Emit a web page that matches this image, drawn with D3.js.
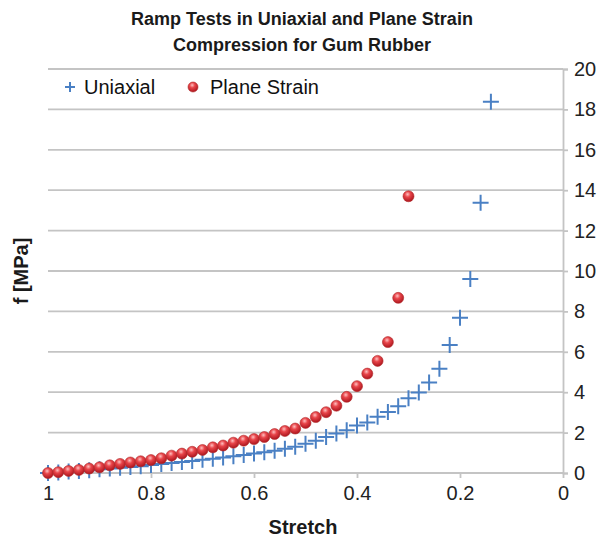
<!DOCTYPE html>
<html><head><meta charset="utf-8">
<script src="https://cdn.jsdelivr.net/npm/d3@7"></script>
<style>body{margin:0;background:#fff}svg{display:block}text{font-family:"Liberation Sans",Arial,Helvetica,sans-serif}</style>
</head><body>
<script>
const stretchUni = [1.00,0.98,0.96,0.94,0.92,0.90,0.88,0.86,0.84,0.82,0.80,0.78,0.76,0.74,0.72,0.70,0.68,0.66,0.64,0.62,0.60,0.58,0.56,0.54,0.52,0.50,0.48,0.46,0.44,0.42,0.40,0.38,0.36,0.34,0.32,0.30,0.28,0.26,0.24,0.22,0.20,0.18,0.16,0.14];
const forceUni = [0,0.03,0.07,0.10,0.14,0.18,0.22,0.26,0.30,0.34,0.39,0.44,0.49,0.54,0.59,0.65,0.71,0.77,0.83,0.89,0.96,1.03,1.10,1.20,1.30,1.45,1.60,1.78,1.95,2.12,2.35,2.50,2.78,3.02,3.30,3.70,3.98,4.48,5.16,6.34,7.68,9.60,13.38,18.38];
const stretchPS = [1.00,0.98,0.96,0.94,0.92,0.90,0.88,0.86,0.84,0.82,0.80,0.78,0.76,0.74,0.72,0.70,0.68,0.66,0.64,0.62,0.60,0.58,0.56,0.54,0.52,0.50,0.48,0.46,0.44,0.42,0.40,0.38,0.36,0.34,0.32,0.30];
const forcePS = [0,0.04,0.10,0.15,0.22,0.28,0.38,0.45,0.52,0.58,0.64,0.73,0.86,0.96,1.05,1.14,1.27,1.36,1.50,1.60,1.68,1.78,1.93,2.08,2.20,2.48,2.77,3.01,3.33,3.77,4.30,4.92,5.55,6.48,8.67,13.70];
const xTicks = [1,0.8,0.6,0.4,0.2,0];
const xTickLabels = ["1","0.8","0.6","0.4","0.2","0"];
const yTicks = [0,2,4,6,8,10,12,14,16,18,20];
const titleLines = ["Ramp Tests in Uniaxial and Plane Strain","Compression for Gum Rubber"];
const seriesNames = ["Uniaxial","Plane Strain"];

const W=605,H=540;
const svg=d3.select("body").append("svg").attr("width",W).attr("height",H);
const defs=svg.append("defs");
const g1=defs.append("radialGradient").attr("id","redball").attr("cx","42%").attr("cy","32%").attr("r","65%");
g1.append("stop").attr("offset","0%").attr("stop-color","#ffc0c0");
g1.append("stop").attr("offset","40%").attr("stop-color","#e8454a");
g1.append("stop").attr("offset","100%").attr("stop-color","#b01820");

const x=d3.scaleLinear().domain([1,0]).range([48,563]);
const y=d3.scaleLinear().domain([0,20]).range([473,69]);
const gridC="#c4c4c4";

// gridlines
svg.append("g").selectAll("line").data(yTicks).join("line")
  .attr("x1",x(1)).attr("x2",x(0)).attr("y1",d=>y(d)).attr("y2",d=>y(d))
  .attr("stroke",gridC).attr("stroke-width",1.8);

// right axis
const yAxis=d3.axisRight(y).tickValues(yTicks).tickSize(5).tickPadding(6).tickFormat(d3.format("d"));
const ya=svg.append("g").attr("transform",`translate(${x(0)},0)`).call(yAxis);
ya.select(".domain").attr("stroke",gridC).attr("stroke-width",1.8);
ya.selectAll(".tick line").attr("stroke",gridC).attr("stroke-width",1.8);
ya.selectAll(".tick text").attr("font-size",20).attr("fill","#222").attr("font-family","Liberation Sans, Arial, sans-serif");

// bottom axis
const xAxis=d3.axisBottom(x).tickValues(xTicks).tickSize(5).tickPadding(8).tickFormat((d,i)=>xTickLabels[i]);
const xa=svg.append("g").attr("transform",`translate(0,${y(0)})`).call(xAxis);
xa.select(".domain").remove();
xa.selectAll(".tick line").attr("stroke",gridC).attr("stroke-width",1.8);
xa.selectAll(".tick text").attr("font-size",20).attr("fill","#222").attr("font-family","Liberation Sans, Arial, sans-serif");

// uniaxial crosses
const blue="#4a80c4";
const cs=8;
const uni=d3.zip(stretchUni,forceUni);
const cg=svg.append("g").attr("stroke",blue).attr("stroke-width",2);
cg.selectAll("path").data(uni).join("path")
  .attr("d",d=>{const cx=x(d[0]),cy=y(d[1]);return `M${cx-cs},${cy}H${cx+cs}M${cx},${cy-cs}V${cy+cs}`;});

// plane strain dots
const ps=d3.zip(stretchPS,forcePS);
svg.append("g").selectAll("circle").data(ps).join("circle")
  .attr("cx",d=>x(d[0])).attr("cy",d=>y(d[1])).attr("r",5.5)
  .attr("fill","url(#redball)").attr("stroke","#b02a2a").attr("stroke-width",0.6);

// legend
svg.append("path").attr("d","M65,87H75M70,82V92").attr("stroke",blue).attr("stroke-width",2);
svg.append("text").attr("x",84).attr("y",94).attr("font-size",20).attr("fill","#111").text(seriesNames[0]);
svg.append("circle").attr("cx",193).attr("cy",87).attr("r",5).attr("fill","url(#redball)").attr("stroke","#b02a2a").attr("stroke-width",0.6);
svg.append("text").attr("x",210).attr("y",94).attr("font-size",20).attr("fill","#111").text(seriesNames[1]);

// title
svg.append("g").selectAll("text").data(titleLines).join("text")
  .attr("x",302).attr("y",(d,i)=>25+i*26).attr("text-anchor","middle")
  .attr("font-size",18).attr("font-weight","bold").attr("fill","#1a1a1a").text(d=>d);

// axis titles
svg.append("text").attr("x",303).attr("y",534).attr("text-anchor","middle").attr("font-size",20).attr("font-weight","bold").attr("fill","#1a1a1a").text("Stretch");
svg.append("text").attr("transform","translate(28,271) rotate(-90)").attr("text-anchor","middle").attr("font-size",20).attr("font-weight","bold").attr("fill","#1a1a1a").text("f [MPa]");
</script>
</body></html>
